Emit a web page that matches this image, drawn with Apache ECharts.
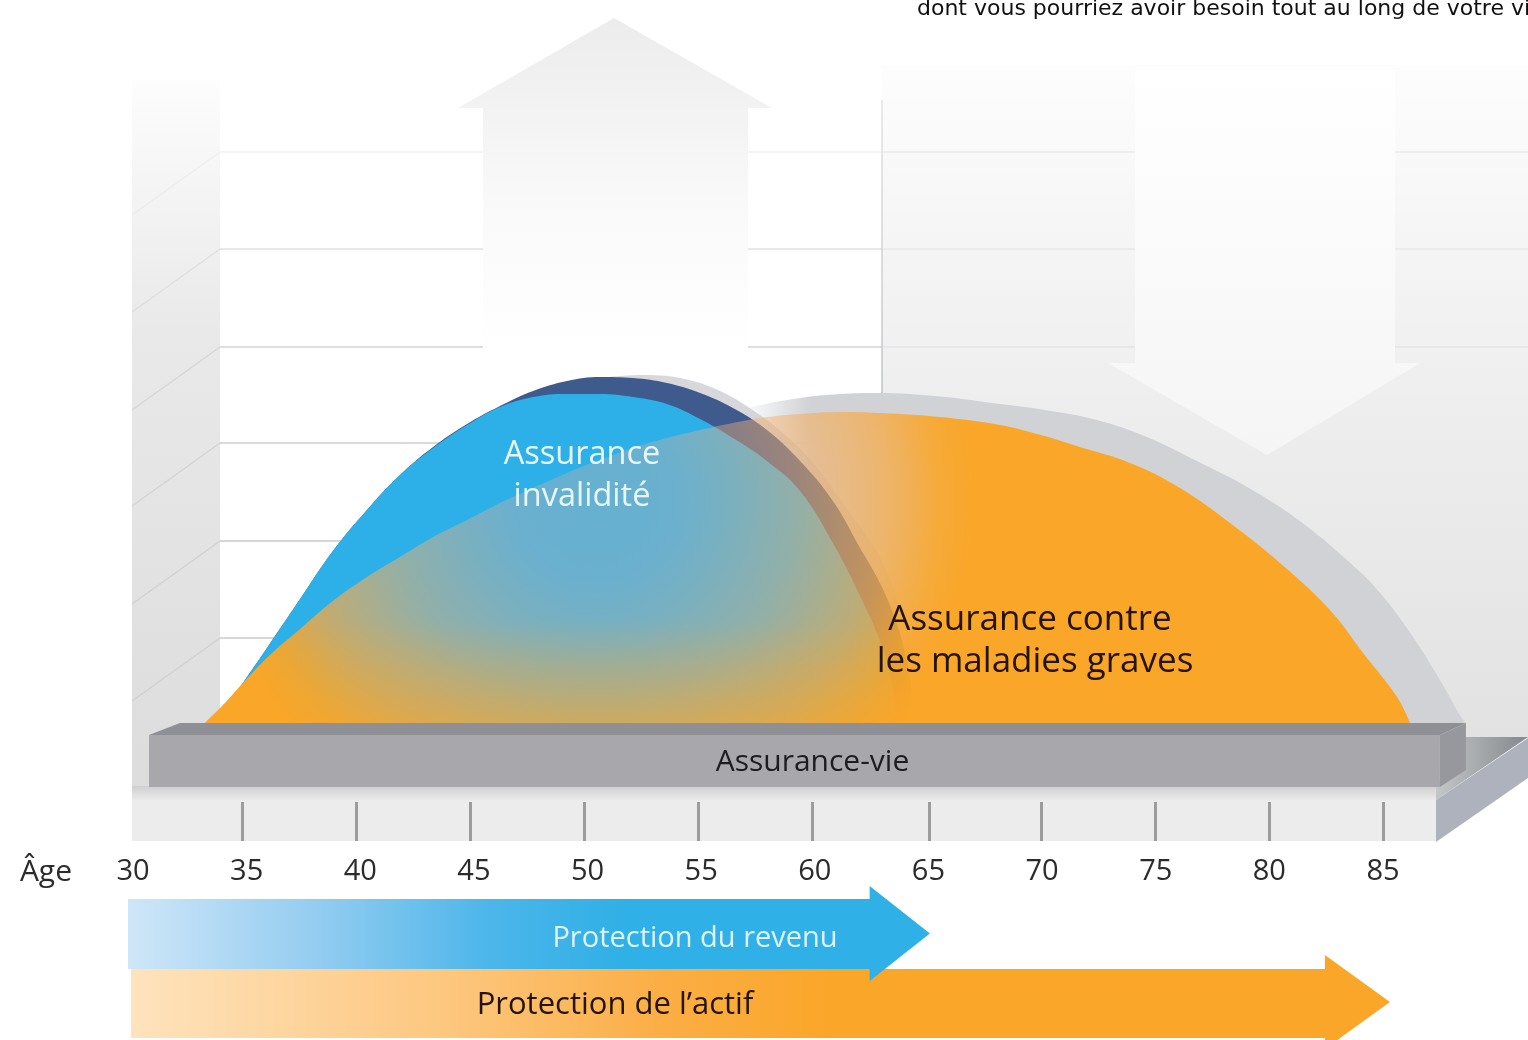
<!DOCTYPE html>
<html><head><meta charset="utf-8">
<style>html,body{margin:0;padding:0;background:#fff;overflow:hidden}#c{width:1528px;height:1040px}</style>
<script src="https://cdn.jsdelivr.net/npm/echarts@6/dist/echarts.min.js"></script>
</head><body><div id="c"></div>
<script>
// ---- values: [age, relative need on a 0-700 scale]
const criticalIllness = [[33.37,0],[34.25,20],[35.04,40],[36.22,68],[37.54,94],[38.98,122],[40.47,146],[41.92,166],[43.37,186],[44.86,203],[46.3,220],[47.75,235],[49.24,250],[50.68,263],[52.13,275],[53.62,285],[55.07,293],[56.51,300],[58,306],[59.45,309],[61.2,311],[62.95,310],[65.58,306],[68.21,298],[70,288],[71.72,276],[73.91,260],[76.1,235],[78.29,200],[80.48,160],[82.67,113],[84.12,70],[85.61,26],[86.18,0]];
const criticalShadow = [[56.6,312],[57.48,317],[59.45,325],[61.2,329],[62.82,330],[65.36,327],[67.9,320],[70.18,313],[72.46,303],[74.65,286],[76.84,262],[79.04,236],[81.23,204],[83.42,163],[84.87,130],[86.31,86],[87.49,43],[88.5,3],[88.67,0]];
const disability = [[33.86,0],[35.04,40],[36.09,75],[37.54,124],[38.98,172],[40.47,213],[41.92,248],[43.37,275],[44.86,298],[46.3,316],[47.75,326],[49.24,329],[50.68,329],[52.13,326],[53.62,319],[55.07,304],[56.51,285],[58,262],[59.45,232],[60.89,180],[62.08,127],[62.95,82],[63.48,40],[63.7,0]];
const disabilityBand = [[33.86,0],[35.04,40],[36.09,75],[37.54,124],[38.98,172],[40.47,213],[41.92,248],[43.37,276],[44.86,299],[46.3,317],[47.75,332],[49.24,342],[50.68,346],[52.13,345],[53.62,340],[55.07,330],[56.51,315],[58,293],[59.45,262],[60.89,222],[62.08,175],[62.95,140],[63.6,105],[64.05,70],[64.36,30],[64.49,0]];
const disabilityFringe = [[50.68,345],[52.44,348],[54.19,345],[55.94,332],[57.56,310],[58.79,288],[60.02,260],[61.51,214],[62.95,166],[63.83,115],[64.49,60],[64.93,0]];
const lifeSpan = [[30.92,87.49]];
const incomeProtection = [[30,62.5,65.14]];
const assetProtection = [[30.13,82.45,85.3]];
const ageLabels = [30,35,40,45,50,55,60,65,70,75,80,85];
const tickAges = [35,40,45,50,55,60,65.13,70,75,80,85];
const wallRows = [152,249,347,443,541,638];
const wallAlpha = [.2,.45,.65,.75,.8,.8];

const LG = echarts.graphic.LinearGradient, RG = echarts.graphic.RadialGradient;
const FONT = '"Open Sans", sans-serif';
const ORANGE = '#faa628';
const orangeAlpha = a => 'rgba(250,166,40,' + a + ')';

const bg = [];
// left wall
bg.push({type:'rect',z:-20,shape:{x:132,y:80,width:88,height:720},style:{fill:new LG(0,0,0,1,[{offset:0,color:'#fdfdfd'},{offset:.35,color:'#e9e9e9'},{offset:1,color:'#dcdcdc'}])}});
// right wall
bg.push({type:'rect',z:-20,shape:{x:882,y:65,width:646,height:673},style:{fill:new LG(0,0,0,1,[{offset:0,color:'#fdfdfd'},{offset:.5,color:'#eeeeee'},{offset:1,color:'#e2e2e2'}])}});
// wall lines
wallRows.forEach((y,i)=>{
  const c='rgba(205,205,208,'+wallAlpha[i]+')';
  bg.push({type:'line',z:-19,shape:{x1:220,y1:y,x2:882,y2:y},style:{stroke:c,lineWidth:2}});
  bg.push({type:'line',z:-19,shape:{x1:220,y1:y,x2:132,y2:y+63},style:{stroke:c,lineWidth:1.5}});
  if(i<3) bg.push({type:'line',z:-19,shape:{x1:882,y1:y,x2:1528,y2:y},style:{stroke:'rgba(200,200,200,.22)',lineWidth:2}});
});
bg.push({type:'line',z:-18,shape:{x1:882,y1:100,x2:882,y2:415},style:{stroke:new LG(0,0,0,1,[{offset:0,color:'#e4e4e6'},{offset:1,color:'#bcc0c6'}]),lineWidth:1.5}});
// big up arrow
bg.push({type:'polygon',z:-17,shape:{points:[[614,18],[772,108],[748,108],[748,350],[483,350],[483,108],[458,108]]},style:{fill:new LG(0,0,0,1,[{offset:0,color:'#ececec'},{offset:.55,color:'#f9f9f9'},{offset:1,color:'#ffffff'}])}});
// big down arrow
bg.push({type:'polygon',z:-17,shape:{points:[[1135,70],[1395,70],[1395,363],[1420,363],[1267,455],[1108,363],[1135,363]]},style:{fill:new LG(0,0,0,1,[{offset:0,color:'#ffffff'},{offset:1,color:'#f5f5f5'}])}});
// floor
bg.push({type:'rect',z:-16,shape:{x:132,y:786,width:1304,height:15},style:{fill:new LG(0,0,0,1,[{offset:0,color:'#cfcfd1'},{offset:1,color:'#ececec'}])}});
bg.push({type:'rect',z:-16,shape:{x:132,y:800,width:1304,height:41},style:{fill:'#ececec'}});
bg.push({type:'polygon',z:-16,shape:{points:[[1466,737],[1528,737],[1436,800],[1436,786]]},style:{fill:new LG(0,0,1,0,[{offset:0,color:'#c4c7c8'},{offset:1,color:'#85888c'}])}});
bg.push({type:'polygon',z:-15,shape:{points:[[1436,800],[1528,738],[1528,778],[1436,842]]},style:{fill:'#aeb2bc'}});
// text
bg.push({type:'text',z:50,style:{x:917,y:9.5,text:'dont vous pourriez avoir besoin tout au long de votre vie',fill:'#111',font:'22px "DejaVu Sans", sans-serif',verticalAlign:'middle',align:'left'}});
const label=(t,x,y,size,fill)=>bg.push({type:'text',z:50,style:{x,y,text:t,fill,font:size+'px '+FONT,align:'center',verticalAlign:'middle'}});
label('Assurance',582,455,32.5,'#e8f6fc');
label('invalidité',582,497,32.5,'#e8f6fc');
label('Assurance contre',1030,620,35,'#241404');
label('les maladies graves',1035,662,35,'#241404');

function area(name,data,fill,z){
  return {name,type:'line',data,xAxisIndex:0,yAxisIndex:0,smooth:.4,showSymbol:false,silent:true,z:z,
    lineStyle:{width:0},areaStyle:{color:fill,opacity:1},clip:false};
}
const orangeRadial = new RG(595,500,400,[
  {offset:0,color:'rgba(248,176,150,.28)'},{offset:.2,color:'rgba(248,176,148,.3)'},{offset:.34,color:'rgba(245,176,125,.39)'},
  {offset:.5,color:'rgba(245,175,105,.5)'},{offset:.72,color:'rgba(248,170,70,.72)'},{offset:.86,color:orangeAlpha(.9)},{offset:.95,color:orangeAlpha(1)},{offset:1,color:orangeAlpha(1)}],true);
const orangeBottom = new LG(0,620,0,723,[{offset:0,color:orangeAlpha(0)},{offset:1,color:orangeAlpha(.5)}],true);
const shadowFill = new LG(740,0,810,0,[{offset:0,color:'rgba(208,210,213,0)'},{offset:1,color:'rgba(208,210,213,1)'}],true);

function barItem(p,api){
  const a=api.coord([api.value(0),0]), b=api.coord([api.value(1),0]);
  const x0=a[0],x1=b[0],y=a[1];
  return {type:'group',children:[
    {type:'polygon',shape:{points:[[x0,y+12],[x0+31,y],[x1+26,y],[x1,y+12]]},style:{fill:'#8f9095'}},
    {type:'rect',shape:{x:x0,y:y+12,width:x1-x0,height:52},style:{fill:'#a7a7ac'}},
    {type:'polygon',shape:{points:[[x1,y+12],[x1+26,y],[x1+26,y+47],[x1,y+64]]},style:{fill:'#97989d'}},
    {type:'text',style:{x:(x0+x1)/2+18,y:y+39,text:'Assurance-vie',fill:'#1d1d20',font:'30px '+FONT,align:'center',verticalAlign:'middle'}}
  ]};
}
function arrowItem(top,bot,headTop,headBot,fill,text,textX,textY,size,textFill){
  return function(p,api){
    const x0=api.coord([api.value(0),0])[0],xh=api.coord([api.value(1),0])[0],xt=api.coord([api.value(2),0])[0];
    const mid=(headTop+headBot)/2;
    return {type:'group',children:[
      {type:'polygon',shape:{points:[[x0,top],[xh,top],[xh,headTop],[xt,mid],[xh,headBot],[xh,bot],[x0,bot]]},style:{fill}},
      {type:'text',style:{x:textX,y:textY,text,fill:textFill,font:size+'px '+FONT,align:'center',verticalAlign:'middle'}}
    ]};
  };
}
const blueFill=new LG(0,0,1,0,[{offset:0,color:'#cfe6f8'},{offset:.25,color:'#8fcbf0'},{offset:.45,color:'#4cb6ea'},{offset:.62,color:'#2fb0e6'},{offset:1,color:'#2fb0e6'}]);
const orangeFill=new LG(0,0,1,0,[{offset:0,color:'#fee3bd'},{offset:.25,color:'#fdc77f'},{offset:.42,color:'#fbae45'},{offset:.56,color:ORANGE},{offset:1,color:ORANGE}]);

const chart=echarts.init(document.getElementById('c'),null,{renderer:'canvas'});
chart.setOption({
  animation:false,backgroundColor:'#fff',
  grid:[
    {left:128,top:23,width:1369.2,height:700},
    {left:128,top:802,width:1369.2,height:39},
    {left:133,top:871,width:1250,height:1}
  ],
  xAxis:[
    {gridIndex:0,type:'value',min:30,max:90,show:false},
    {gridIndex:1,type:'value',min:30,max:90,interval:5,axisLine:{show:false},splitLine:{show:false},axisLabel:{show:false},
      axisTick:{show:true,inside:true,length:39,customValues:tickAges,lineStyle:{color:'#9c9c9c',width:3}}},
    {gridIndex:2,type:'value',min:30,max:85,interval:5,axisLine:{show:false},axisTick:{show:false},splitLine:{show:false},
      name:'Âge',nameLocation:'start',nameGap:61,nameTextStyle:{fontFamily:FONT,fontSize:30,color:'#2b2b2b',verticalAlign:'middle',align:'right',padding:[0,0,8,0]},
      axisLabel:{show:true,margin:0,fontFamily:FONT,fontSize:29,color:'#2b2b2b',verticalAlign:'middle',formatter:v=>ageLabels.includes(v)?String(v):''}}
  ],
  yAxis:[
    {gridIndex:0,type:'value',min:0,max:700,show:false},
    {gridIndex:1,type:'value',min:0,max:1,show:false},
    {gridIndex:2,type:'value',min:0,max:1,show:false}
  ],
  graphic:{elements:bg},
  series:[
    area('Ombre maladies graves',criticalShadow,shadowFill,2),
    area('Frange invalidité',disabilityFringe,'rgba(190,190,196,.6)',2),
    area('Bande invalidité',disabilityBand,'#3f5b8d',2),
    area('Assurance invalidité',disability,'#2db0e8',2),
    area('Assurance contre les maladies graves',criticalIllness,orangeRadial,2),
    area('Assurance contre les maladies graves (base)',criticalIllness,orangeBottom,2),
    {type:'custom',name:'Assurance-vie',data:lifeSpan,xAxisIndex:0,yAxisIndex:0,renderItem:barItem,z:5,silent:true,clip:false},
    {type:'custom',name:'Protection de l’actif',data:assetProtection,xAxisIndex:0,yAxisIndex:0,z:5,silent:true,clip:false,
      renderItem:arrowItem(969,1038,955,1049,orangeFill,'Protection de l’actif',615,1005,31,'#241404')},
    {type:'custom',name:'Protection du revenu',data:incomeProtection,xAxisIndex:0,yAxisIndex:0,z:6,silent:true,clip:false,
      renderItem:arrowItem(899,969,886,981,blueFill,'Protection du revenu',695,939,29,'#dff2fb')}
  ]
});
</script></body></html>
